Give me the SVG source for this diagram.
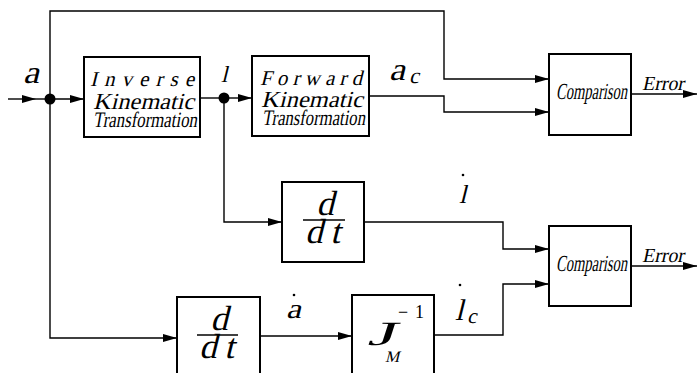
<svg xmlns="http://www.w3.org/2000/svg" width="697" height="373" viewBox="0 0 697 373">
<style>
.box{fill:#fff;stroke:#000;stroke-width:2}
.ln{fill:none;stroke:#000;stroke-width:1.4}
.m{font-family:'Liberation Serif',serif;fill:#000}
.c{font-family:'Liberation Serif',serif;fill:#000}
</style>
<defs>
<marker id="ah" viewBox="0 0 14 8" refX="14" refY="4" markerWidth="14" markerHeight="8" markerUnits="userSpaceOnUse" orient="auto">
<path d="M0,0 L14,4 L0,8 Z" fill="#000"/>
</marker>
</defs>
<g id="connectors">
<path class="ln" d="M8,99 L36,99" marker-end="url(#ah)"/>
<path class="ln" d="M36,99 L50,99"/>
<path class="ln" d="M50,99 L84,99" marker-end="url(#ah)"/>
<path class="ln" d="M50,99 L50,11 L444,11 L444,79 L549,79" marker-end="url(#ah)"/>
<path class="ln" d="M50,99 L50,338 L177,338" marker-end="url(#ah)"/>
<path class="ln" d="M200,98 L224,98"/>
<path class="ln" d="M224,98 L252,98" marker-end="url(#ah)"/>
<path class="ln" d="M224,98 L224,222 L282,222" marker-end="url(#ah)"/>
<path class="ln" d="M369,96 L444,96 L444,112 L549,112" marker-end="url(#ah)"/>
<path class="ln" d="M364,222 L503,222 L503,249 L549,249" marker-end="url(#ah)"/>
<path class="ln" d="M260,336 L352,336" marker-end="url(#ah)"/>
<path class="ln" d="M434,335 L503,335 L503,284 L549,284" marker-end="url(#ah)"/>
<path class="ln" d="M631,94 L697,94" marker-end="url(#ah)"/>
<path class="ln" d="M631,266 L697,266" marker-end="url(#ah)"/>
<circle cx="50" cy="99" r="5.5" fill="#000"/>
<circle cx="224" cy="98" r="5.5" fill="#000"/>
</g>
<g id="labels">
<text class="m" transform="translate(23,83) skewX(-14)" font-size="32" textLength="16" lengthAdjust="spacingAndGlyphs">a</text>
<text class="m" transform="translate(221,82) skewX(-14)" font-size="23">l</text>
<text class="m" transform="translate(389,80) skewX(-14)" font-size="32" textLength="16" lengthAdjust="spacingAndGlyphs">a</text>
<text class="m" transform="translate(409,83) skewX(-14)" font-size="22">c</text>
<circle cx="463" cy="175" r="1.3" fill="#000"/>
<text class="m" transform="translate(459,203) skewX(-14)" font-size="26">l</text>
<circle cx="294" cy="295" r="1.3" fill="#000"/>
<text class="m" transform="translate(286,318) skewX(-14)" font-size="28" textLength="15" lengthAdjust="spacingAndGlyphs">a</text>
<circle cx="460" cy="285" r="1.3" fill="#000"/>
<text class="m" transform="translate(455,320) skewX(-14)" font-size="30">l</text>
<text class="m" transform="translate(467,323) skewX(-14)" font-size="21">c</text>
<text class="c" transform="translate(642,90) skewX(-12)" font-size="20" textLength="42" lengthAdjust="spacingAndGlyphs">Error</text>
<text class="c" transform="translate(642,262) skewX(-12)" font-size="20" textLength="42" lengthAdjust="spacingAndGlyphs">Error</text>
</g>
<g id="inverse">
<rect class="box" x="84" y="57" width="116" height="80"/>
<text class="m" transform="translate(90,86) skewX(-14)" font-size="21" textLength="104" lengthAdjust="spacing">Inverse</text>
<text class="m" transform="translate(93,109) skewX(-14)" font-size="23" textLength="101" lengthAdjust="spacingAndGlyphs">Kinematic</text>
<text class="c" transform="translate(93,127) skewX(-10)" font-size="22" textLength="104" lengthAdjust="spacingAndGlyphs">Transformation</text>
</g>
<g id="forward">
<rect class="box" x="252" y="56" width="117" height="80"/>
<text class="m" transform="translate(260,85) skewX(-14)" font-size="21" textLength="102" lengthAdjust="spacing">Forward</text>
<text class="m" transform="translate(261,107) skewX(-14)" font-size="23" textLength="102" lengthAdjust="spacingAndGlyphs">Kinematic</text>
<text class="c" transform="translate(262,125) skewX(-10)" font-size="22" textLength="103" lengthAdjust="spacingAndGlyphs">Transformation</text>
</g>
<g id="comparison1">
<rect class="box" x="549" y="54" width="82" height="81"/>
<text class="c" transform="translate(556,99) skewX(-10)" font-size="23" textLength="71" lengthAdjust="spacingAndGlyphs">Comparison</text>
</g>
<g id="ddt1">
<rect class="box" x="282" y="182" width="82" height="80"/>
<text class="m" transform="translate(325,215) skewX(-14)" font-size="35" text-anchor="middle">d</text>
<line x1="303" y1="220" x2="345" y2="220" stroke="#000" stroke-width="1.5"/>
<text class="m" transform="translate(305,243) skewX(-14)" font-size="35" textLength="35" lengthAdjust="spacing">dt</text>
</g>
<g id="comparison2">
<rect class="box" x="549" y="226" width="82" height="80"/>
<text class="c" transform="translate(556,271) skewX(-10)" font-size="23" textLength="71" lengthAdjust="spacingAndGlyphs">Comparison</text>
</g>
<g id="ddt2">
<rect class="box" x="177" y="297" width="83" height="80"/>
<text class="m" transform="translate(219,330) skewX(-14)" font-size="35" text-anchor="middle">d</text>
<line x1="197" y1="335" x2="238" y2="335" stroke="#000" stroke-width="1.5"/>
<text class="m" transform="translate(199,358) skewX(-14)" font-size="35" textLength="35" lengthAdjust="spacing">dt</text>
</g>
<g id="jacobian">
<rect class="box" x="352" y="295" width="82" height="82"/>
<text class="c" transform="translate(367,345) skewX(-18)" font-size="34" textLength="28" lengthAdjust="spacingAndGlyphs">J</text>
<text class="m" transform="translate(398,318)" font-size="18" textLength="26" lengthAdjust="spacing">−1</text>
<text class="m" transform="translate(385,362) skewX(-14)" font-size="16">M</text>
</g>
</svg>
